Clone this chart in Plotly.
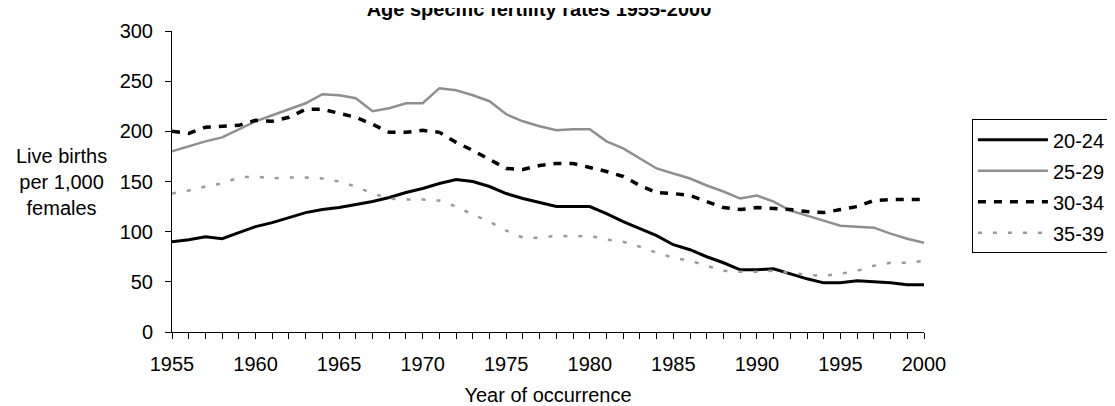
import plotly.graph_objects as go

years = list(range(1955, 2001))

# live births per 1,000 females, by age group of mother
rate_20_24 = [90, 92, 95, 93, 99, 105, 109, 114, 119, 122,
              124, 127, 130, 134, 139, 143, 148, 152, 150, 145,
              138, 133, 129, 125, 125, 125, 118, 110, 103, 96,
              87, 82, 75, 69, 62, 62, 63, 58, 53, 49,
              49, 51, 50, 49, 47, 47]
rate_25_29 = [180, 185, 190, 194, 202, 210, 216, 222, 228, 237,
              236, 233, 220, 223, 228, 228, 243, 241, 236, 230,
              217, 210, 205, 201, 202, 202, 190, 183, 173, 163,
              158, 153, 146, 140, 133, 136, 130, 121, 116, 111,
              106, 105, 104, 98, 93, 89]
rate_30_34 = [200, 198, 204, 205, 206, 211, 210, 214, 222, 222,
              218, 214, 207, 199, 199, 201, 199, 189, 181, 172,
              163, 162, 166, 168, 168, 164, 160, 155, 146, 139,
              138, 136, 130, 124, 122, 124, 123, 122, 120, 119,
              122, 125, 131, 132, 132, 132]
rate_35_39 = [138, 141, 145, 148, 154, 155, 153, 154, 154, 153,
              150, 145, 138, 133, 132, 132, 131, 125, 117, 110,
              101, 94, 94, 96, 95, 96, 92, 90, 85, 79,
              74, 71, 66, 61, 60, 60, 61, 59, 57, 56,
              58, 61, 66, 69, 69, 71]

series = [
    ("20-24", rate_20_24, dict(color="black", width=3)),
    ("25-29", rate_25_29, dict(color="#8f8f8f", width=2.5)),
    ("30-34", rate_30_34, dict(color="black", width=3.5, dash="8px,8px")),
    ("35-39", rate_35_39, dict(color="#9a9a9a", width=2.5, dash="4px,11px")),
]

fig = go.Figure()
for name, vals, line in series:
    fig.add_trace(go.Scatter(x=years, y=vals, mode="lines", name=name,
                             line=line, legendgroup=name))

font = "Liberation Sans, Arial, sans-serif"

fig.update_layout(
    width=1115, height=406,
    margin=dict(l=164, r=197, t=18, b=82),
    paper_bgcolor="white", plot_bgcolor="white",
    font=dict(family=font, size=20, color="black"),
    title=dict(text="<b>Age specific fertility rates 1955-2000</b>",
               x=0.488, xref="paper", xanchor="center",
               y=0.998, yref="container", yanchor="middle",
               font=dict(size=20)),
    showlegend=True,
    legend=dict(x=1.0637, y=0.707, xanchor="left", yanchor="top",
                bordercolor="black", borderwidth=1, bgcolor="white",
                tracegroupgap=2, traceorder="grouped", itemwidth=70,
                font=dict(size=20)),
    annotations=[dict(text="Live births<br>per 1,000<br>females",
                      xref="paper", yref="y", x=-0.147, y=150,
                      xanchor="center", yanchor="middle",
                      showarrow=False, align="center",
                      font=dict(size=20))],
)
fig.update_xaxes(range=[1955, 2000], dtick=5, tick0=1955,
                 showgrid=False, zeroline=False,
                 showline=True, linecolor="black", linewidth=1,
                 ticks="outside", ticklen=6, tickcolor="black",
                 ticklabelstandoff=8,
                 minor=dict(dtick=1, ticks="outside", ticklen=6, tickcolor="black"),
                 title=dict(text="Year of occurrence", standoff=13,
                            font=dict(size=20)))
fig.update_yaxes(range=[0, 300], dtick=50,
                 showgrid=False, zeroline=False,
                 showline=True, linecolor="black", linewidth=1,
                 ticks="outside", ticklen=6, tickcolor="black",
                 ticklabelstandoff=8)

fig.write_html("out.html")
